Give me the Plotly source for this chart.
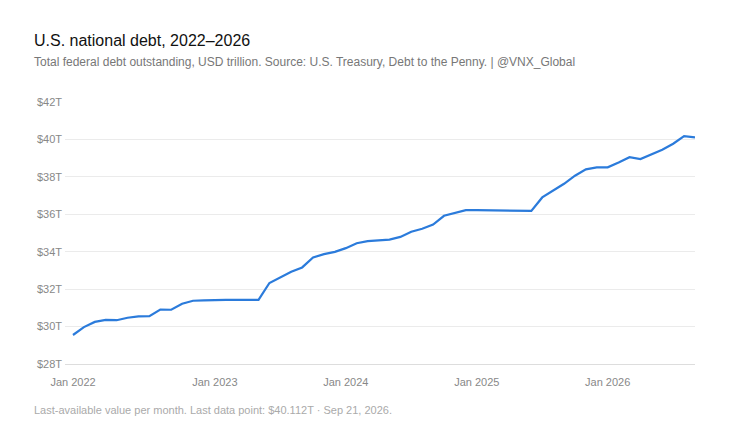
import plotly.graph_objects as go

months = ["Dec 2021"] + [f"{m} {y}" for y in (2022, 2023, 2024, 2025) for m in
          "Jan Feb Mar Apr May Jun Jul Aug Sep Oct Nov Dec".split()] + \
         [f"{m} 2026" for m in "Jan Feb Mar Apr May Jun Jul Aug Sep".split()]
debt = [29.55, 29.97, 30.25, 30.36, 30.34, 30.47, 30.54, 30.56, 30.91, 30.90,
        31.22, 31.38, 31.40, 31.43, 31.43, 31.43, 31.43, 31.43, 32.33, 32.65,
        32.93, 33.16, 33.69, 33.87, 33.99, 34.19, 34.45, 34.57, 34.59, 34.65,
        34.79, 35.07, 35.23, 35.45, 35.92, 36.07, 36.22, 36.22, 36.22, 36.22,
        36.19, 36.21, 36.18, 36.90, 37.28, 37.63, 38.06, 38.40, 38.51, 38.51,
        38.77, 39.05, 38.95, 39.20, 39.45, 39.77, 40.18, 40.112]
x_tick_months = ["Dec 2021", "Jan 2023", "Jan 2024", "Jan 2025", "Jan 2026"]
x_tick_labels = ["Jan 2022", "Jan 2023", "Jan 2024", "Jan 2025", "Jan 2026"]
y_ticks = [28, 30, 32, 34, 36, 38, 40, 42]
y_labels = ["$28T", "$30T", "$32T", "$34T", "$36T", "$38T", "$40T", "$42T"]

# The page adds an 8px body margin, so the figure is 8px smaller on each leading side.
W, H = 724, 428
L, R, T, B = 57, 37, 93.5, 72
FONT = "Liberation Sans, Arial, sans-serif"

def note(text, px, py, size, color):
    return dict(text=text, xref="paper", yref="paper", showarrow=False,
                x=(px - 10 - L) / (W - L - R), y=1 - (py - 8 - T) / (H - T - B),
                xanchor="left", yanchor="middle",
                font=dict(size=size, color=color, family=FONT))

fig = go.Figure(go.Scatter(x=months, y=debt, mode="lines", hoverinfo="skip",
                           line=dict(color="#2b7bdb", width=2.2)))
fig.update_layout(
    width=W, height=H, autosize=False, showlegend=False,
    margin=dict(l=L, r=R, t=T, b=B, pad=0),
    paper_bgcolor="#ffffff", plot_bgcolor="#ffffff",
    font=dict(family=FONT),
    annotations=[
        note("U.S. national debt, 2022–2026", 34, 40, 16, "#111111"),
        note("Total federal debt outstanding, USD trillion. Source: U.S. Treasury, Debt to the Penny. | @VNX_Global", 34, 61, 12, "#777777"),
        note("Last-available value per month. Last data point: $40.112T · Sep 21, 2026.", 34, 410, 11, "#aaaaaa"),
    ],
)
fig.update_xaxes(type="category", range=[-8 / 10.91, 57], tickmode="array",
                 tickvals=x_tick_months, ticktext=x_tick_labels, showgrid=False,
                 zeroline=False, showline=True, linecolor="#dddddd", linewidth=1,
                 ticks="", ticklabelstandoff=8, tickangle=0,
                 tickfont=dict(size=11, color="#888888", family=FONT))
fig.update_yaxes(range=[28, 42], tickmode="array", tickvals=y_ticks, ticktext=y_labels,
                 showgrid=True, gridcolor="#ebebeb", gridwidth=1, zeroline=False,
                 ticks="", showline=False, ticklabelstandoff=2,
                 tickfont=dict(size=11, color="#888888", family=FONT))
fig.write_html("out.html", config={"displayModeBar": False})
